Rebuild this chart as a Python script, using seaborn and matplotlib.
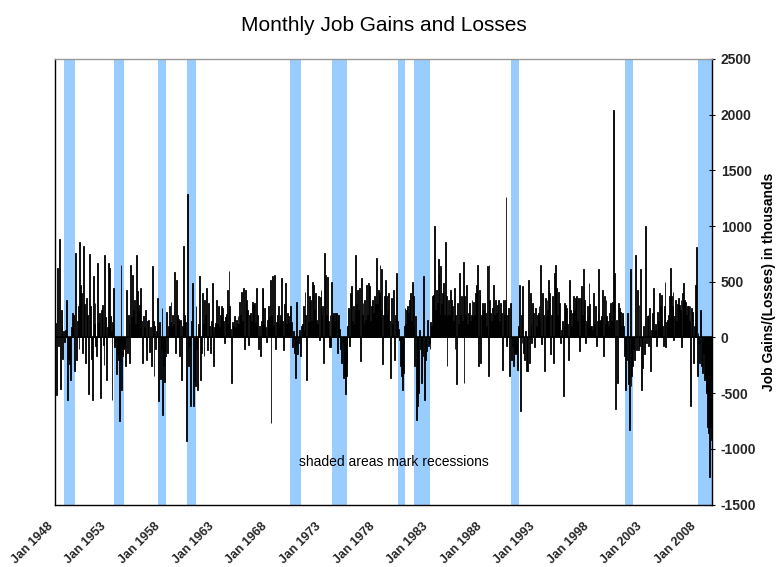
import numpy as np
import pandas as pd
import matplotlib
matplotlib.use("Agg")
import matplotlib.pyplot as plt
import seaborn as sns

# Monthly change in payroll jobs (thousands), Jan 1948 - Mar 2009
jobs_1948_1957 = [
    130, -520, 620, -80, 880, -460, 250, 90, -190, 60, -40, 70,          # 1948
    340, -560, -190, -240, -120, -380, 90, 220, 200, -300, 760, -200,    # 1949
    150, 280, -100, 860, 470, 400, -140, 820, 300, -230, 350, 180,       # 1950
    200, -510, 750, 280, -190, -560, 550, 120, 310, -80, -170, 670,      # 1951
    130, 220, -540, 250, 290, -70, -250, 740, 180, -380, 90, 670,        # 1952
    620, 190, 60, -560, 140, 440, -90, -40, -330, -150, -200, -750,      # 1953
    -220, 650, -470, -170, -100, -90, -260, 430, -140, 200, 120, -230,   # 1954
    650, 180, 560, 250, 340, 120, 740, 200, 420, 240, 290, 440,          # 1955
    150, -230, 190, 100, 250, -90, -200, 150, 160, -130, 90, -260,       # 1956
    640, 150, -350, 100, -100, 60, 350, -570, 140, -370, -100, 260,      # 1957
]
jobs_1958_1967 = [
    -700, -260, -400, -170, 230, -140, 100, 280, 140, 320, 100, 200,     # 1958
    120, 590, -140, 520, 200, 170, 150, -170, 160, -380, 100, 820,       # 1959
    200, 140, -930, 1290, -100, -260, -80, -620, 150, 490, -620, -390,   # 1960
    -440, 280, -100, -470, 120, 550, -380, -140, 400, 120, -170, 340,    # 1961
    200, 440, -110, 310, 100, -140, 150, 490, 60, -260, 90, 130,         # 1962
    340, 120, 280, 90, 200, 100, 280, 260, 150, -50, 180, 210,           # 1963
    430, 120, 600, 280, 80, -410, 140, 100, 190, 90, 160, 120,           # 1964
    190, 120, 320, 200, 410, 150, 440, -100, 430, 180, 340, 250,         # 1965
    -70, 200, 220, 150, 320, 290, 180, 310, 130, 440, 200, -100,         # 1966
    100, -170, 150, 440, 430, 120, 260, 90, -40, 160, 280, 180,          # 1967
]
jobs_1968_1977 = [
    520, -770, 200, 550, 100, 560, -100, 140, 200, 280, 120, 160,        # 1968
    200, 530, 150, -110, 300, 490, 120, 220, 90, 190, 130, 280,          # 1969
    140, -90, 60, -140, -360, -80, 320, -150, -50, 70, -170, 100,        # 1970
    120, 280, 60, 410, 200, -380, 560, 140, 370, 340, 150, 500,          # 1971
    200, 470, 250, 400, 160, 120, 370, -20, 360, 430, 200, 280,          # 1972
    -230, 760, 560, 200, 540, 150, -90, 200, -90, 500, 190, 220,         # 1973
    150, 220, 220, -140, 200, 200, 80, -100, -230, -40, -360, -350,      # 1974
    -510, -350, -230, 100, 260, -80, 400, 460, 150, 280, 120, 250,       # 1975
    740, 300, 430, 250, 440, -210, 530, 200, 310, 120, 340, 160,         # 1976
    470, 200, 490, 460, 150, 280, 200, 340, 220, 370, 300, 710,          # 1977
]
jobs_1978_1987 = [
    300, 430, 400, 650, 250, 610, -240, 200, 370, 520, 370, 200,         # 1978
    250, 400, 150, -360, 350, 120, 430, -200, 200, 580, 370, 150,        # 1979
    80, -20, -260, -350, -470, -320, 100, 260, 120, 250, 280, 220,       # 1980
    340, 400, 150, 500, 370, 100, -260, 190, -740, -620, -500, 70,       # 1981
    -100, -410, -350, -170, 550, -560, -200, -120, 160, -80, -50, -100,  # 1982
    140, 100, 370, 380, 1000, 250, 430, 310, 700, 580, 200, 640,         # 1983
    300, 400, 490, 200, 860, 370, -260, 200, 340, 200, 430, 340,         # 1984
    280, 150, 440, -100, 200, -420, 310, 120, 580, 200, 370, 150,        # 1985
    680, -410, 370, 200, 470, 120, 220, 310, 150, 200, 340, 180,         # 1986
    320, 200, 400, 470, 650, -260, 430, 380, -230, 200, 310, 250,        # 1987
]
jobs_1988_1997 = [
    310, 220, 100, 640, -350, 650, 340, 220, 150, 260, 470, 200,         # 1988
    340, 220, 120, 290, 340, 150, 310, 220, -290, 340, 200, 340,         # 1989
    1260, -80, 200, 260, -350, 310, -200, -80, -260, -230, -140, -150,   # 1990
    -140, -290, 100, 470, -660, 200, -50, 460, -140, -200, 60, -300,     # 1991
    -300, 520, -230, 400, 120, -50, 310, 220, -90, 260, 100, 200,        # 1992
    220, 280, 150, 650, -60, 400, 200, -300, 350, 180, 340, 250,         # 1993
    520, 400, -150, 200, 370, -230, 580, 650, 280, 440, 200, 410,        # 1994
    310, -50, 70, 150, -530, 100, 310, 290, 260, 120, -200, 520,         # 1995
    250, 100, 220, 170, 370, 250, 350, 370, 150, 350, -120, 350,         # 1996
    300, 460, 200, 610, 340, -50, 150, 280, 190, 490, 300, 100,          # 1997
]
jobs_1998_2009 = [
    100, 70, 400, 120, 280, -80, 150, 220, 610, 150, 160, 190,           # 1998
    430, -170, 370, 120, 340, 190, 150, 100, 220, 310, 150, 320,         # 1999
    2040, 300, 580, -640, 160, -410, 310, 260, 230, 100, 220, 190,       # 2000
    100, -170, -470, -200, 220, -420, -830, 610, -440, -350, -260, -100, # 2001
    -200, 740, -110, 430, -110, 290, -80, 610, -470, -270, 100, -150,    # 2002
    1000, -50, 190, 200, -80, 260, -300, 70, 220, 440, 70, 120,          # 2003
    80, -80, 230, 150, 400, 280, 380, 100, -80, 280, 500, -90,           # 2004
    140, 160, 200, 370, 620, 370, 280, 410, -20, 190, 340, 150,          # 2005
    300, 350, 290, 250, 340, -90, 400, 490, 340, 320, 200, 280,          # 2006
    280, 150, 280, -620, 260, 230, -230, 100, 470, 810, -350, 40,        # 2007
    -50, -230, 250, -260, -320, -140, -380, -350, -500, -500, -800, -860,# 2008
    -1250, -800, -920,                                                   # 2009 (Jan-Mar)
]

first_year = 1948
label_years = list(range(1948, 2009, 5))
y_ticks = [-1500, -1000, -500, 0, 500, 1000, 1500, 2000, 2500]
# NBER recessions (first month, last month); None = still ongoing at the chart's end
recession_starts = ["1948-11", "1953-07", "1957-08", "1960-04", "1969-12", "1973-11",
                    "1980-01", "1981-07", "1990-07", "2001-03", "2007-12"]
recession_ends = ["1949-10", "1954-05", "1958-04", "1961-02", "1970-11", "1975-03",
                  "1980-07", "1982-11", "1991-03", "2001-11", None]

values = np.array(jobs_1948_1957 + jobs_1958_1967 + jobs_1968_1977 +
                  jobs_1978_1987 + jobs_1988_1997 + jobs_1998_2009, dtype=float)
n = len(values)
df = pd.DataFrame({"month": np.arange(n) + 0.5, "change": values})


def month_index(s):
    y, m = s.split("-")
    return (int(y) - first_year) * 12 + int(m) - 1


sns.set_theme(style="white")
plt.rcParams["font.family"] = ["Liberation Sans", "DejaVu Sans"]

fig = plt.figure(figsize=(7.78, 5.67), dpi=100)
ax = fig.add_axes([55.3 / 778, 1 - 504.5 / 567, 657 / 778, 445.5 / 567])

x_right = n + 0.5
for s, e in zip(recession_starts, recession_ends):
    x0 = month_index(s)
    x1 = month_index(e) + 1 if e is not None else x_right
    ax.axvspan(x0, x1, color="#99ccff", lw=0, zorder=0)

sns.barplot(data=df, x="month", y="change", native_scale=True, color="black",
            saturation=1, width=1.0, linewidth=0.6, edgecolor="black",
            errorbar=None, ax=ax, zorder=2)

ax.set_xlim(0, x_right)
ax.set_ylim(-1500, 2500)

ax.axhline(0, color="black", lw=1.2, zorder=3)

# x ticks: every January, labels every 5 years
tick_years = list(range(first_year, 2010))
ax.set_xticks([(y - first_year) * 12 for y in tick_years])
ax.set_xticklabels([f"Jan {y}" if y in label_years else "" for y in tick_years],
                   rotation=45, ha="right", fontsize=9, fontweight="bold")
ax.tick_params(axis="x", direction="inout", length=5, width=0.8, color="black", pad=9)

ax.yaxis.tick_right()
ax.yaxis.set_label_position("right")
ax.set_yticks(y_ticks)
ax.set_yticklabels([str(v) for v in y_ticks], fontsize=10, fontweight="bold")
ax.tick_params(axis="y", direction="inout", length=5, width=0.8, color="black", pad=3.5,
               left=False, right=True)
ax.set_ylabel("Job Gains/(Losses) in thousands", fontsize=10, fontweight="bold",
              labelpad=4, color="black")
ax.set_xlabel("")

for side in ["left", "right", "bottom"]:
    ax.spines[side].set_color("black")
    ax.spines[side].set_linewidth(1.0)
ax.spines["top"].set_color("#999999")
ax.spines["top"].set_linewidth(1.0)

ax.set_title("Monthly Job Gains and Losses", fontsize=15, pad=20, color="black")
ax.text(0.5155, 0.0954, "shaded areas mark recessions", transform=ax.transAxes,
        ha="center", va="center", fontsize=10, color="black", zorder=4)

fig.savefig("out.png", dpi=100)
